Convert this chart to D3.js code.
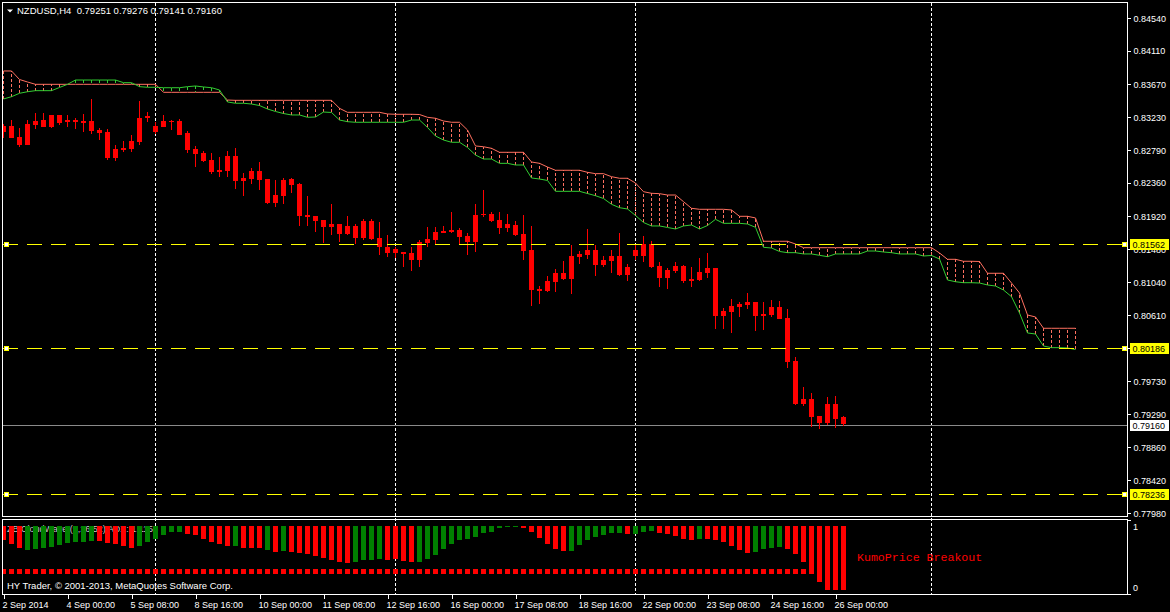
<!DOCTYPE html>
<html><head><meta charset="utf-8">
<script src="https://cdn.jsdelivr.net/npm/d3@7"></script>
<style>html,body{margin:0;padding:0;background:#000;overflow:hidden}svg{display:block}</style>
</head><body><svg id="c" width="1170" height="612"></svg>
<script>
const symbolTitle = "NZDUSD,H4  0.79251 0.79276 0.79141 0.79160";
const openP = [.83037,.83113,.82971,.82861,.83126,.83192,.83100,.83259,.83166,.83196,
.83153,.83179,.83064,.83033,.82689,.82825,.82808,.82901,.83219,.83113,
.83100,.83183,.83179,.83020,.82808,.82755,.82662,.82507,.82516,.82715,
.82384,.82410,.82516,.82410,.82092,.82185,.82410,.82344,.81933,.81920,
.81867,.81774,.81814,.81682,.81788,.81629,.81854,.81625,.81505,.81434,
.81447,.81430,.81337,.81558,.81602,.81699,.81708,.81735,.81655,.81576,
.81933,.81947,.81867,.81761,.81801,.81682,.81470,.80953,.80926,.81049,
.81165,.81085,.81377,.81403,.81470,.81271,.81324,.81390,.81138,.81390,
.81390,.81545,.81258,.81098,.81191,.81258,.81059,.81072,.81161,.81227,
.80595,.80648,.80714,.80741,.80784,.80591,.80608,.80714,.80572,.79999,
.79429,.79495,.79270,.79173,.79429,.79251];
const highP = [.83139,.83192,.83090,.83192,.83289,.83281,.83259,.83259,.83259,.83223,
.83272,.83471,.83086,.83069,.82861,.82914,.82994,.83444,.83294,.83166,
.83259,.83192,.83202,.83047,.82848,.82781,.82755,.82702,.82781,.82821,
.82490,.82556,.82636,.82410,.82397,.82424,.82424,.82357,.82185,.81920,
.81867,.82079,.81814,.81920,.81814,.81880,.81880,.81841,.81668,.81513,
.81447,.81513,.81602,.81770,.81770,.81788,.81977,.81757,.81691,.82079,
.82265,.81969,.81977,.81947,.81858,.81933,.81788,.80992,.81125,.81218,
.81324,.81536,.81456,.81748,.81536,.81390,.81470,.81695,.81284,.81536,
.81655,.81589,.81314,.81227,.81314,.81271,.81240,.81360,.81430,.81227,
.80697,.80820,.80780,.80904,.80784,.80784,.80807,.80793,.80688,.80056,
.79658,.79578,.79270,.79525,.79535,.79276];
const lowP = [.82958,.82955,.82838,.82858,.83073,.83097,.83090,.83130,.83100,.83073,
.83033,.83011,.82927,.82666,.82649,.82768,.82768,.82861,.83166,.83007,
.83097,.83060,.82991,.82755,.82569,.82636,.82477,.82437,.82437,.82278,
.82185,.82344,.82265,.82079,.82039,.82079,.82225,.81788,.81788,.81708,
.81562,.81668,.81576,.81668,.81549,.81602,.81602,.81403,.81381,.81360,
.81248,.81195,.81240,.81513,.81549,.81691,.81691,.81549,.81403,.81447,
.81911,.81845,.81682,.81708,.81655,.81337,.80731,.80754,.80913,.80913,
.81072,.80886,.81284,.81350,.81125,.81240,.81169,.81125,.81063,.81337,
.81314,.81227,.80983,.80949,.81161,.81028,.80983,.81059,.81095,.80423,
.80423,.80374,.80582,.80688,.80400,.80409,.80585,.80552,.79910,.79415,
.79402,.79120,.79093,.79150,.79107,.79141];
const closeP = [.83113,.82958,.82861,.83139,.83179,.83100,.83259,.83153,.83192,.83166,
.83179,.83047,.83020,.82689,.82808,.82795,.82914,.83219,.83245,.83033,
.83179,.83170,.82994,.82795,.82742,.82649,.82503,.82530,.82715,.82384,
.82424,.82516,.82397,.82088,.82198,.82397,.82331,.81920,.81907,.81854,
.81774,.81814,.81682,.81788,.81629,.81854,.81615,.81503,.81434,.81479,
.81417,.81337,.81579,.81615,.81712,.81725,.81735,.81642,.81576,.81933,
.81951,.81854,.81761,.81814,.81668,.81456,.80939,.80926,.81059,.81165,
.81085,.81390,.81417,.81470,.81271,.81337,.81390,.81138,.81244,.81470,
.81545,.81240,.81098,.81204,.81258,.81059,.81085,.81178,.81227,.80595,
.80661,.80731,.80758,.80784,.80595,.80617,.80714,.80555,.79989,.79429,
.79495,.79260,.79173,.79429,.79230,.79160];
const senkouA = [.83471,.83501,.83546,.83567,.83581,.83581,.83581,.83623,.83665,.83722,
.83722,.83722,.83722,.83722,.83722,.83687,.83687,.83634,.83626,.83626,
.83620,.83620,.83620,.83634,.83643,.83630,.83620,.83590,.83431,.83414,
.83414,.83404,.83384,.83338,.83305,.83278,.83259,.83259,.83228,.83232,
.83298,.83292,.83192,.83170,.83162,.83162,.83162,.83162,.83162,.83162,
.83162,.83192,.83192,.83093,.82980,.82927,.82897,.82897,.82828,.82728,
.82675,.82675,.82618,.82618,.82596,.82596,.82424,.82410,.82391,.82247,
.82247,.82247,.82247,.82218,.82189,.82152,.82075,.82030,.82013,.81927,
.81834,.81788,.81788,.81768,.81748,.81788,.81801,.81748,.81794,.81876,
.81823,.81823,.81823,.81814,.81770,.81505,.81496,.81450,.81434,.81434,
.81417,.81417,.81399,.81381,.81417,.81417,.81417,.81417,.81456,.81456,
.81443,.81434,.81417,.81417,.81417,.81390,.81397,.81350,.81072,.81049,
.81036,.81036,.81032,.81006,.80992,.80939,.80851,.80635,.80370,.80356,
.80197,.80175,.80175,.80171,.80151];
const senkouB = [.83842,.83842,.83729,.83696,.83665,.83665,.83665,.83665,.83665,.83665,
.83665,.83665,.83665,.83665,.83665,.83665,.83665,.83665,.83665,.83665,
.83559,.83559,.83559,.83559,.83559,.83559,.83559,.83559,.83457,.83453,
.83453,.83453,.83453,.83453,.83453,.83453,.83453,.83453,.83453,.83453,
.83453,.83453,.83347,.83294,.83294,.83294,.83294,.83294,.83272,.83268,
.83268,.83268,.83265,.83228,.83215,.83179,.83162,.83162,.83060,.82848,
.82838,.82817,.82764,.82764,.82764,.82764,.82636,.82618,.82569,.82526,
.82526,.82526,.82526,.82499,.82481,.82481,.82441,.82420,.82420,.82357,
.82242,.82221,.82216,.82198,.82198,.82110,.82022,.82009,.82009,.82009,
.82009,.82000,.81916,.81916,.81894,.81585,.81585,.81585,.81585,.81549,
.81500,.81500,.81500,.81500,.81500,.81500,.81500,.81500,.81500,.81500,
.81500,.81500,.81500,.81500,.81500,.81500,.81500,.81430,.81346,.81346,
.81320,.81320,.81317,.81161,.81161,.81161,.81032,.80900,.80608,.80582,
.80432,.80432,.80432,.80432,.80432];
const waveValue = [.786,.719,.652,.625,.636,.652,.672,.703,.739,.755,
.755,.770,.766,.730,.714,.688,.656,.688,.755,.802,
.859,.911,.911,.880,.859,.802,.755,.723,.688,.688,
.656,.656,.656,.620,.598,.609,.594,.578,.558,.531,
.495,.464,.442,.427,.442,.469,.469,.484,.473,.480,
.458,.438,.442,.489,.552,.645,.723,.781,.802,.833,
.895,.911,.964,.980,.980,.973,.911,.808,.719,.645,
.614,.614,.708,.786,.833,.864,.886,.895,.870,.880,
.902,.927,.891,.880,.848,.802,.777,.792,.792,.777,
.745,.692,.625,.583,.598,.636,.652,.672,.648,.555,
.442,.310,.120,0,0,0];
const waveColor = ["r","r","r","g","g","g","g","g","g","g",
"g","g","r","r","r","r","r","g","g","g",
"g","g","g","r","r","r","r","r","r","g",
"r","r","r","g","r","g","r","r","r","r",
"r","r","r","r","g","g","g","g","r","r",
"r","r","g","g","g","g","g","g","g","g",
"g","g","g","g","g","r","r","r","r","r",
"r","g","g","g","g","g","g","g","r","g",
"g","g","r","r","r","r","r","g","r","r",
"r","r","r","r","g","g","g","g","r","r",
"r","r","r","r","r","r"];
const breakoutBand = [0.25, 0.33];
const yTicks = [0.84540,0.84110,0.83670,0.83230,0.82790,0.82360,0.81920,0.81480,0.81040,0.80610,0.80170,0.79730,0.79290,0.78860,0.78420,0.77980];
const xTickBars = [0,8,16,24,32,40,48,56,64,72,80,88,96,104];
const xLabels = ["2 Sep 2014","4 Sep 00:00","5 Sep 08:00","8 Sep 16:00","10 Sep 00:00","11 Sep 08:00","12 Sep 16:00","16 Sep 00:00","17 Sep 08:00","18 Sep 16:00","22 Sep 00:00","23 Sep 08:00","24 Sep 16:00","26 Sep 00:00"];
const separatorBars = [19,49,79,116];
const hLevels = [0.81562,0.80186,0.78236];
const bidPrice = 0.79160;
const indLabel = "ZB CloudWave (9,26,52)  ADX: 1.1153";
const copyright = "HY Trader, \u00A9 2001-2013, MetaQuotes Software Corp.";
const signalText = "KumoPrice Breakout";

const W = 1170, H = 612;
const L = 3, R = 1127.5, T = 2.5, MB = 516.5, IT = 519.5, IB = 594.5;
const svg = d3.select("#c");
svg.append("rect").attr("width",W).attr("height",H).attr("fill","#000");

const x = d3.scaleLinear().domain([0,1]).range([3.5,11.5]);
const y = d3.scaleLinear().domain([0.84540,0.77980]).range([18.3,513.3]);
// chart objects (levels, bid line) are rendered on MT4's object grid, about a pixel below the label grid
const yObj = d3.scaleLinear().domain([0.81562,0.78236]).range([244.2,494.2]);
const yi = d3.scaleLinear().domain([0,1]).range([590,526]);
const objY = v => Math.round(yObj(v))+0.5;
const font = "'Liberation Sans', Arial, sans-serif";

const defs = svg.append("defs");
defs.append("clipPath").attr("id","cm").append("rect").attr("x",L).attr("y",T+0.5).attr("width",R-L-0.5).attr("height",MB-T-1);
defs.append("clipPath").attr("id","ci").append("rect").attr("x",L).attr("y",IT+0.5).attr("width",R-L-0.5).attr("height",IB-IT-1);

// separators
svg.append("g").selectAll("line").data(separatorBars).join("line")
  .attr("x1",d=>x(d)).attr("x2",d=>x(d)).attr("y1",T).attr("y2",IB)
  .attr("stroke","#fff").attr("stroke-dasharray","3,2").attr("shape-rendering","crispEdges");

const gm = svg.append("g").attr("clip-path","url(#cm)");
// cloud hatches
const idx = d3.range(senkouA.length);
gm.append("g").selectAll("line").data(idx).join("line")
  .attr("x1",i=>x(i)).attr("x2",i=>x(i))
  .attr("y1",i=>y(senkouA[i])).attr("y2",i=>y(senkouB[i]))
  .attr("stroke",i=>senkouB[i]>=senkouA[i]?"#ff7060":"#32cd32")
  .attr("stroke-dasharray","3,2").attr("shape-rendering","crispEdges");
const ln = d3.line().x((d,i)=>x(i)).y(d=>y(d));
gm.append("path").attr("d",ln(senkouB)).attr("fill","none").attr("stroke","#ff7060").attr("stroke-width",1);
gm.append("path").attr("d",ln(senkouA)).attr("fill","none").attr("stroke","#32cd32").attr("stroke-width",1);

// bid line
gm.append("line").attr("x1",L).attr("x2",R).attr("y1",objY(bidPrice)).attr("y2",objY(bidPrice))
  .attr("stroke","#8a8a8a").attr("shape-rendering","crispEdges");

// candles
const cidx = d3.range(openP.length);
const cg = gm.append("g");
cg.selectAll("line").data(cidx).join("line")
  .attr("x1",i=>x(i)).attr("x2",i=>x(i)).attr("y1",i=>y(highP[i])).attr("y2",i=>y(lowP[i]))
  .attr("stroke","#ff0000").attr("shape-rendering","crispEdges");
cg.selectAll("rect").data(cidx).join("rect")
  .attr("x",i=>x(i)-2.5).attr("width",5)
  .attr("y",i=>y(Math.max(openP[i],closeP[i])))
  .attr("height",i=>Math.max(1,y(Math.min(openP[i],closeP[i]))-y(Math.max(openP[i],closeP[i]))))
  .attr("fill","#ff0000").attr("shape-rendering","crispEdges");

// horizontal levels
const hg = svg.append("g");
hLevels.forEach(v=>{
  const yy = objY(v);
  hg.append("line").attr("x1",L).attr("x2",R).attr("y1",yy).attr("y2",yy)
    .attr("stroke","#ffff00").attr("stroke-dasharray","15,9").attr("shape-rendering","crispEdges");
  [L+0.5, R-5.5].forEach(mx=>{
    hg.append("rect").attr("x",mx).attr("y",yy-2.5).attr("width",5).attr("height",5).attr("fill","#ffff00").attr("shape-rendering","crispEdges");
    hg.append("rect").attr("x",mx+1).attr("y",yy-1.5).attr("width",3).attr("height",3).attr("fill","#ffffff").attr("shape-rendering","crispEdges");
  });
});

// frames
svg.append("rect").attr("x",L-0.5).attr("y",T).attr("width",R-L+0.5).attr("height",MB-T)
  .attr("fill","none").attr("stroke","#fff").attr("shape-rendering","crispEdges");
svg.append("rect").attr("x",L-0.5).attr("y",IT).attr("width",R-L+0.5).attr("height",IB-IT)
  .attr("fill","none").attr("stroke","#fff").attr("shape-rendering","crispEdges");

// y axis
const yAxis = d3.axisRight(y).tickValues(yTicks).tickSize(3).tickPadding(3).tickFormat(d3.format(".5f"));
const ya = svg.append("g").attr("transform",`translate(${R},0)`).call(yAxis);
ya.select(".domain").remove();
ya.selectAll("line").attr("stroke","#fff").attr("shape-rendering","crispEdges");
ya.selectAll("text").attr("fill","#fff").style("font",`9px ${font}`).attr("dy","0.35em");

// price boxes
hLevels.forEach(v=>{
  const yy = objY(v);
  svg.append("rect").attr("x",1130).attr("y",yy-5.5).attr("width",39).attr("height",11).attr("fill","#ffff00").attr("shape-rendering","crispEdges");
  svg.append("text").attr("x",1132.5).attr("y",yy).attr("dy","0.35em").attr("fill","#000").style("font",`9px ${font}`).text(d3.format(".5f")(v));
});
{
  const yy = objY(bidPrice);
  svg.append("rect").attr("x",1130).attr("y",yy-5.5).attr("width",39).attr("height",11).attr("fill","#ffffff").attr("shape-rendering","crispEdges");
  svg.append("text").attr("x",1132.5).attr("y",yy).attr("dy","0.35em").attr("fill","#000").style("font",`9px ${font}`).text(d3.format(".5f")(bidPrice));
}

// indicator
const gi = svg.append("g").attr("clip-path","url(#ci)");
gi.append("text").attr("x",7).attr("y",532).attr("fill","#c8c8c8").style("font",`9px ${font}`).text(indLabel);
gi.append("g").selectAll("rect").data(cidx).join("rect")
  .attr("x",i=>x(i)-2.5).attr("width",5).attr("y",yi(1))
  .attr("height",i=>Math.max(1,yi(waveValue[i])-yi(1)))
  .attr("fill",i=>waveColor[i]==="g"?"#008000":"#ff0000").attr("shape-rendering","crispEdges");
gi.append("g").selectAll("rect").data(cidx).join("rect")
  .attr("x",i=>x(i)-2.5).attr("width",5).attr("y",yi(breakoutBand[1]))
  .attr("height",yi(breakoutBand[0])-yi(breakoutBand[1]))
  .attr("fill","#ff0000").attr("shape-rendering","crispEdges");
gi.append("text").attr("x",7).attr("y",588.5).attr("fill","#fff").style("font",`9.5px ${font}`).text(copyright);
gi.append("text").attr("x",857).attr("y",561).attr("fill","#ff0000").style("font","11.6px 'Liberation Mono', 'Courier New', monospace").text(signalText);

// indicator axis
const ia = svg.append("g");
[[IT+0.5,"1",530],[IB-0.5,"0",590.5]].forEach(([ty,t,by])=>{
  ia.append("line").attr("x1",R).attr("x2",R+3).attr("y1",ty).attr("y2",ty).attr("stroke","#fff").attr("shape-rendering","crispEdges");
  ia.append("text").attr("x",1133).attr("y",by).attr("fill","#fff").style("font",`9px ${font}`).text(t);
});

// x axis
const xAxis = d3.axisBottom(x).tickValues(xTickBars).tickSize(4).tickPadding(3).tickFormat((d,i)=>xLabels[i]);
const xa = svg.append("g").attr("transform",`translate(0,${IB})`).call(xAxis);
xa.select(".domain").remove();
xa.selectAll("line").attr("stroke","#fff").attr("shape-rendering","crispEdges");
xa.selectAll("text").attr("fill","#fff").attr("text-anchor","start").attr("x",-1.5).style("font",`9px ${font}`);

// header
svg.append("path").attr("d","M7,9.5 L13,9.5 L10,12.5 Z").attr("fill","#fff");
svg.append("text").attr("x",17).attr("y",14).attr("fill","#fff").style("font",`9.5px ${font}`).attr("xml:space","preserve").style("white-space","pre").text(symbolTitle);
</script></body></html>
